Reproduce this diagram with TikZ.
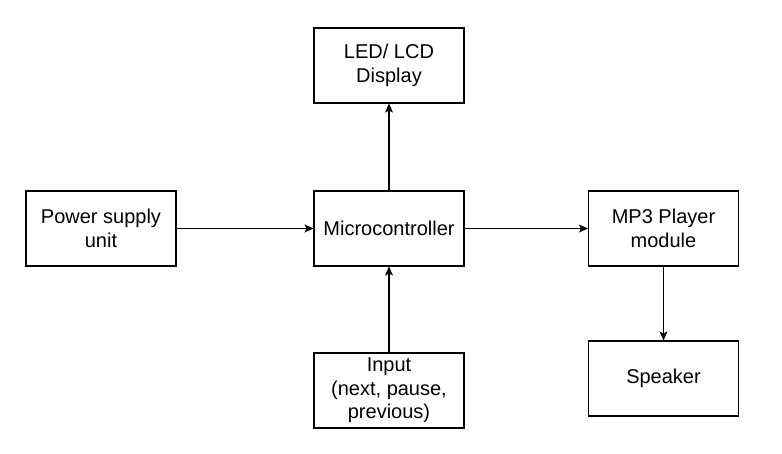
\documentclass[tikz,border=0pt]{standalone}
\usepackage{fontspec}
\setmainfont{Liberation Sans}
\usetikzlibrary{arrows.meta}
\begin{document}
\begin{tikzpicture}[x=1pt,y=-1pt,
  blk/.style={draw, line width=1.1pt, minimum width=150pt, minimum height=75pt, align=center, inner sep=0pt,
    font=\fontsize{20}{23.5}\selectfont},
  conn/.style={line width=1.1pt, -{Stealth[length=9pt,width=8pt,inset=2pt]}}]
\useasboundingbox[fill=white] (0,0) rectangle (782,454);
\node[blk] (led) at (389,65.5) {LED/ LCD\\Display};
\node[blk] (mcu) at (389,228.5) {Microcontroller};
\node[blk] (psu) at (101,228.5) {Power supply\\unit};
\node[blk] (mp3) at (663.5,228.5) {MP3 Player\\module};
\node[blk] (inp) at (389,390.5) {Input\\(next, pause,\\previous)};
\node[blk] (spk) at (663.5,378.5) {Speaker};
\draw[conn] (mcu) -- (led);
\draw[conn] (psu) -- (mcu);
\draw[conn] (mcu) -- (mp3);
\draw[conn] (inp) -- (mcu);
\draw[conn] (mp3) -- (spk);
\end{tikzpicture}
\end{document}
